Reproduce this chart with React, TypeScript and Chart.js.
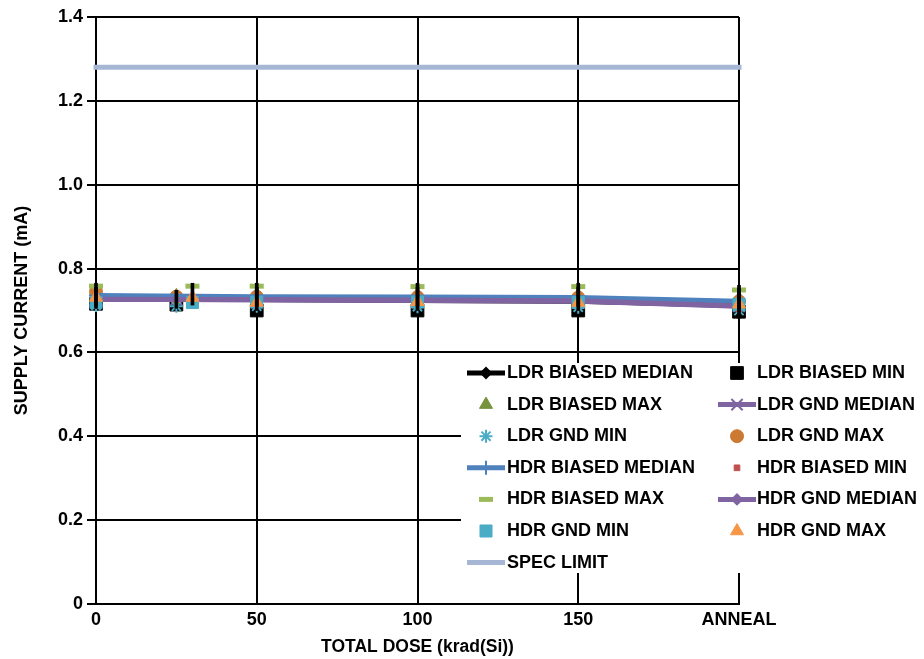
import React, { useEffect, useRef } from 'react';
import { Chart, registerables, PointElement } from 'chart.js';

Chart.register(...registerables);

// ---- data ----
const xTickValues = [0, 50, 100, 150, 200];
const xTickLabels = ['0', '50', '100', '150', 'ANNEAL'];
const yTickLabels = ['0', '0.2', '0.4', '0.6', '0.8', '1.0', '1.2', '1.4'];

const ldrDose = [0, 25, 50, 100, 150, 200];
const hdrDose = [0, 30, 50, 100, 150, 200];
const specDose = [0, 200];

const ldrBiasedMedian = [0.728, 0.727, 0.726, 0.724, 0.722, 0.712];
const ldrBiasedMin = [0.716, 0.714, 0.700, 0.700, 0.700, 0.697];
const ldrBiasedMax = [0.745, 0.735, 0.738, 0.736, 0.735, 0.728];
const ldrGndMedian = [0.727, 0.726, 0.725, 0.724, 0.722, 0.710];
const ldrGndMin = [0.712, 0.710, 0.710, 0.709, 0.708, 0.700];
const ldrGndMax = [0.745, 0.733, 0.733, 0.732, 0.731, 0.722];
const hdrBiasedMedian = [0.736, 0.734, 0.733, 0.732, 0.731, 0.722];
const hdrBiasedMin = [0.714, 0.713, 0.712, 0.712, 0.711, 0.704];
const hdrBiasedMax = [0.758, 0.758, 0.758, 0.757, 0.757, 0.749];
const hdrGndMedian = [0.727, 0.726, 0.726, 0.725, 0.723, 0.711];
const hdrGndMin = [0.719, 0.719, 0.720, 0.720, 0.719, 0.715];
const hdrGndMax = [0.731, 0.731, 0.719, 0.721, 0.719, 0.715];
const specLimit = [1.28, 1.28];

const ldrRangeLow = [0.705, 0.705, 0.700, 0.700, 0.700, 0.682];
const ldrRangeHigh = [0.755, 0.748, 0.755, 0.755, 0.755, 0.753];
const hdrRangeLow = [0.712, 0.713, 0.710, 0.710, 0.710, 0.700];
const hdrRangeHigh = [0.765, 0.765, 0.765, 0.765, 0.765, 0.760];

// ---- styles ----
const FONT = '"Liberation Sans", Arial, sans-serif';
const C_BLACK = '#000000';
const C_PURPLE = '#8064A2';
const C_BLUE = '#4F81BD';
const C_GREEN_DARK = '#77933C';
const C_CYAN = '#4BACC6';
const C_ORANGE_DARK = '#CC7A33';
const C_RED = '#C0504D';
const C_GREEN_LIGHT = '#9BBB59';
const C_ORANGE = '#F79646';
const C_SPEC = '#A6B7D6';

const pts = (xs: number[], ys: number[]) => xs.map((x, i) => ({ x, y: ys[i] }));
const rangePts = (xs: number[], lo: number[], hi: number[]) =>
  xs.map((x, i) => ({ x, y: [lo[i], hi[i]] }));

function lineSet(label: string, xs: number[], ys: number[], color: string, style: any, radius: number) {
  return {
    label,
    data: pts(xs, ys),
    showLine: true,
    borderColor: color,
    backgroundColor: color,
    borderWidth: 5,
    pointStyle: style,
    pointRadius: radius,
    pointBorderWidth: 2,
    pointBackgroundColor: color,
    pointBorderColor: color,
    clip: false,
  };
}

function markSet(label: string, xs: number[], ys: number[], color: string, style: any, radius: number, bw = 1) {
  return {
    label,
    data: pts(xs, ys),
    showLine: false,
    borderColor: color,
    backgroundColor: color,
    pointStyle: style,
    pointRadius: radius,
    pointBorderWidth: bw,
    pointBackgroundColor: color,
    pointBorderColor: color,
    clip: false,
  };
}

const legendPlugin = {
  id: 'gridLegend',
  afterDraw(chart: any) {
    const ctx = chart.ctx as CanvasRenderingContext2D;
    const box = { left: 461, top: 363, width: 463, height: 210 };
    const symbolX = [486, 737];
    const textX = [507, 757];
    const firstRowY = 373;
    const rowStep = 31.6;
    const lineHalf = 19;
    ctx.save();
    ctx.fillStyle = '#ffffff';
    ctx.fillRect(box.left, box.top, box.width, box.height);
    const items = chart.data.datasets.filter((d: any) => !d.hideInLegend);
    items.forEach((ds: any, i: number) => {
      const col = i % 2;
      const row = Math.floor(i / 2);
      const cx = symbolX[col];
      const cy = firstRowY + row * rowStep;
      if (ds.showLine) {
        ctx.strokeStyle = ds.borderColor;
        ctx.lineWidth = ds.borderWidth;
        ctx.lineCap = 'butt';
        ctx.beginPath();
        ctx.moveTo(cx - lineHalf, cy);
        ctx.lineTo(cx + lineHalf, cy);
        ctx.stroke();
      }
      if (ds.pointRadius > 0) {
        const pe: any = new (PointElement as any)({
          x: cx,
          y: cy,
          options: {
            pointStyle: ds.pointStyle,
            radius: ds.pointRadius,
            rotation: 0,
            borderWidth: ds.pointBorderWidth,
            backgroundColor: ds.pointBackgroundColor,
            borderColor: ds.pointBorderColor,
          },
        });
        pe.draw(ctx);
      }
      ctx.fillStyle = '#000';
      ctx.font = `bold 18px ${FONT}`;
      ctx.textAlign = 'left';
      ctx.textBaseline = 'middle';
      ctx.fillText(ds.label, textX[col], cy);
    });
    ctx.restore();
  },
};

export default function App() {
  const ref = useRef<HTMLCanvasElement | null>(null);

  useEffect(() => {
    document.body.style.margin = '0';
    if (!ref.current) return;
    const seriesDefs: any[] = [
      lineSet('LDR BIASED MEDIAN', ldrDose, ldrBiasedMedian, C_BLACK, 'rectRot', 5),
      markSet('LDR BIASED MIN', ldrDose, ldrBiasedMin, C_BLACK, 'rect', 9),
      markSet('LDR BIASED MAX', ldrDose, ldrBiasedMax, C_GREEN_DARK, 'triangle', 7.5),
      lineSet('LDR GND MEDIAN', ldrDose, ldrGndMedian, C_PURPLE, 'crossRot', 8),
      markSet('LDR GND MIN', ldrDose, ldrGndMin, C_CYAN, 'star', 6.5, 2),
      markSet('LDR GND MAX', ldrDose, ldrGndMax, C_ORANGE_DARK, 'circle', 6.5),
      lineSet('HDR BIASED MEDIAN', hdrDose, hdrBiasedMedian, C_BLUE, 'cross', 7),
      markSet('HDR BIASED MIN', hdrDose, hdrBiasedMin, C_RED, 'rect', 4),
      markSet('HDR BIASED MAX', hdrDose, hdrBiasedMax, C_GREEN_LIGHT, 'line', 7, 5),
      lineSet('HDR GND MEDIAN', hdrDose, hdrGndMedian, C_PURPLE, 'rectRot', 5),
      markSet('HDR GND MIN', hdrDose, hdrGndMin, C_CYAN, 'rect', 8.5),
      markSet('HDR GND MAX', hdrDose, hdrGndMax, C_ORANGE, 'triangle', 7.5),
      {
        label: 'SPEC LIMIT',
        data: pts(specDose, specLimit),
        showLine: true,
        borderColor: C_SPEC,
        backgroundColor: C_SPEC,
        borderWidth: 5,
        borderCapStyle: 'square',
        pointRadius: 0,
        clip: false,
      },
    ];
    const n = seriesDefs.length;
    seriesDefs.forEach((d, i) => { d.order = n - i + 1; });
    const bars: any[] = [
      {
        type: 'bar',
        label: 'LDR RANGE',
        hideInLegend: true,
        data: rangePts(ldrDose, ldrRangeLow, ldrRangeHigh),
        backgroundColor: C_BLACK,
        borderWidth: 0,
        barThickness: 3,
        grouped: false,
        order: 0,
        clip: false,
      },
      {
        type: 'bar',
        label: 'HDR RANGE',
        hideInLegend: true,
        data: rangePts(hdrDose, hdrRangeLow, hdrRangeHigh),
        backgroundColor: C_BLACK,
        borderWidth: 0,
        barThickness: 3,
        grouped: false,
        order: 0,
        clip: false,
      },
    ];

    const tickFont = { family: FONT, size: 18, weight: 'bold' as const };

    const chart = new Chart(ref.current, {
      type: 'scatter',
      data: { datasets: [...seriesDefs, ...bars] as any },
      options: {
        animation: false,
        responsive: false,
        maintainAspectRatio: false,
        layout: { padding: { left: 0, top: 17, right: 185, bottom: 0 } },
        plugins: { legend: { display: false }, tooltip: { enabled: false } },
        scales: {
          x: {
            type: 'linear',
            min: 0,
            max: 200,
            offset: false,
            grid: { color: '#000', lineWidth: 2, drawTicks: false, offset: false },
            border: { color: '#000', width: 2 },
            ticks: {
              stepSize: 50,
              padding: 5,
              color: '#000',
              font: tickFont,
              maxRotation: 0,
              autoSkip: false,
              callback: (v: any) => {
                const i = xTickValues.indexOf(Number(v));
                return i >= 0 ? xTickLabels[i] : '';
              },
            },
            title: {
              display: true,
              text: 'TOTAL DOSE (krad(Si))',
              color: '#000',
              font: { family: FONT, size: 17.5, weight: 'bold' },
              padding: { top: 0, bottom: 1.5 },
            },
            afterFit: (s: any) => { s.height = 55; },
          } as any,
          y: {
            type: 'linear',
            min: 0,
            max: 1.4,
            grid: { color: '#000', lineWidth: 2, tickLength: 9 },
            border: { color: '#000', width: 2 },
            ticks: {
              stepSize: 0.2,
              padding: 4,
              color: '#000',
              font: tickFont,
              callback: (v: any) => yTickLabels[Math.round(Number(v) / 0.2)] ?? '',
            },
            title: {
              display: true,
              text: 'SUPPLY CURRENT (mA)',
              color: '#000',
              font: { family: FONT, size: 18, weight: 'bold' },
              padding: { top: 11, bottom: 0 },
            },
            afterFit: (s: any) => { s.width = 96; },
          } as any,
        },
      },
      plugins: [legendPlugin as any],
    });
    return () => chart.destroy();
  }, []);

  return (
    <div style={{ position: 'absolute', left: 0, top: 0, width: 924, height: 659 }}>
      <canvas ref={ref} width={924} height={659} style={{ display: 'block', width: 924, height: 659 }} />
    </div>
  );
}
